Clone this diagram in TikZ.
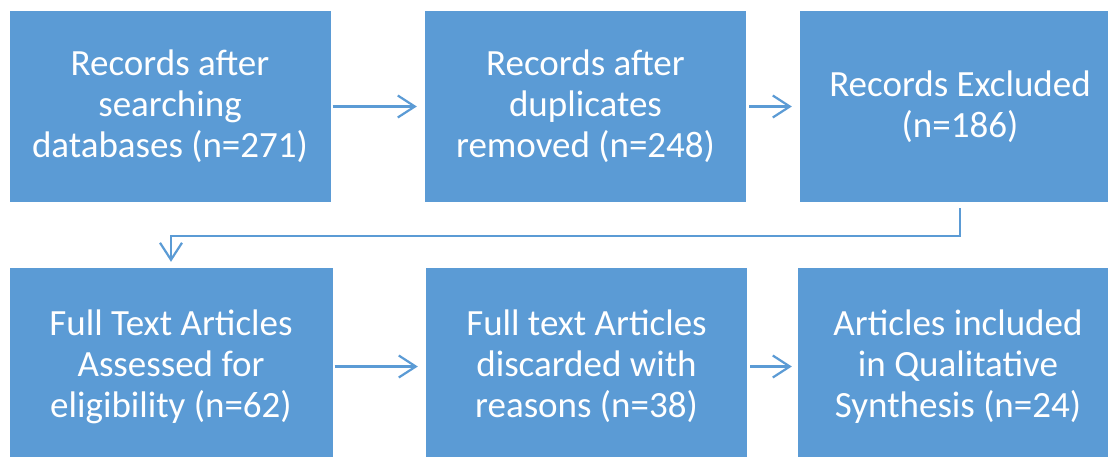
\documentclass[tikz,border=0pt]{standalone}
\usepackage{fontspec}
\setmainfont{Carlito}
\usetikzlibrary{positioning,arrows.meta}
\definecolor{officeblue}{HTML}{5B9BD5}
\tikzset{
  stage/.style={fill=officeblue, draw=none, text=white, align=center,
    inner sep=0pt, minimum width=321pt, minimum height=191pt,
    font=\fontsize{37}{41}\selectfont},
  flow/.style={draw=officeblue, line width=2.2pt,
    -{Straight Barb[length=17pt,width=22pt,line width=2.2pt]}}
}
\begin{document}
\begin{tikzpicture}[x=1pt, y=-1pt]
    \useasboundingbox[fill=white] (0,0) rectangle (1108,456);
    % first row
    \node[stage] (search) at (170,106.5) {Records after\\searching\\databases (n=271)};
    \node[stage] (dedup) at (585.5,106.5) {Records after\\duplicates\\removed (n=248)};
    \node[stage, minimum width=320pt] (excluded) at (960,106.5) {Records Excluded\\(n=186)};
    % second row
    \node[stage, minimum width=323pt, minimum height=197pt] (fulltext) at (171,366.5) {Full Text Articles\\Assessed for\\eligibility (n=62)};
    \node[stage, minimum height=197pt] (discarded) at (586.5,366.5) {Full text Articles\\discarded with\\reasons (n=38)};
    \node[stage, minimum width=320pt, minimum height=197pt] (included) at (958,366.5) {Articles included\\in Qualitative\\Synthesis (n=24)};
    %
    \draw[flow, shorten <=2pt, shorten >=8pt] (search) -- (dedup);
    \draw[flow, shorten <=3pt, shorten >=8pt] (dedup) -- (excluded);
    \draw[flow, shorten <=6pt, shorten >=6pt] (excluded.south) -- ++(0,34) -| (fulltext.north);
    \draw[flow, shorten <=2pt, shorten >=8pt] (fulltext) -- (discarded);
    \draw[flow, shorten <=3pt, shorten >=6pt] (discarded) -- (included);
\end{tikzpicture}
\end{document}
